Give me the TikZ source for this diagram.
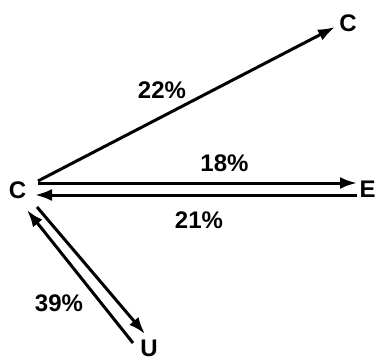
\documentclass[tikz,border=0pt]{standalone}
\usepackage{fontspec}
\setmainfont{Liberation Sans}
\usetikzlibrary{arrows.meta}
\tikzset{
    >=Latex,
    font=\fontsize{24}{28}\selectfont,
    flow_state/.style={
        inner sep=0pt,
        font=\fontsize{24}{28}\selectfont\bfseries
    },
    flow_pct/.style={
        inner sep=0pt,
        font=\fontsize{24}{28}\selectfont\bfseries
    },
    flow_arrow/.style={
        -{Latex[length=17pt, width=12pt]},
        line width=3pt
    }
}

\begin{document}
\begin{tikzpicture}[x=1pt, y=-1pt]
\useasboundingbox (0,0) rectangle (377,361);

% --- States ---
\node[flow_state] (Home) at (17.5,190.5) {C};
\node[flow_state] (Top) at (348,23.5) {C};
\node[flow_state] (East) at (367.5,189) {E};
\node[flow_state] (Under) at (149,348) {U};

% --- Shares ---
\node[flow_pct] (pTop) at (162,90) {22\%};
\node[flow_pct] (pOut) at (224.5,163) {18\%};
\node[flow_pct] (pBack) at (199,220) {21\%};
\node[flow_pct] (pUnder) at (59,303) {39\%};

% --- Edges ---
\draw[flow_arrow] ([shift={(20.5,-9.5)}]Home.center) -- ([shift={(-13,3.5)}]Top.center);
\draw[flow_arrow] ([shift={(20.5,-7.5)}]Home.center) -- ([shift={(-10.5,-6)}]East.center);
\draw[flow_arrow] ([shift={(-10.5,6)}]East.center) -- ([shift={(17.5,4.5)}]Home.center);
\draw[flow_arrow] ([shift={(19.5,16.5)}]Home.center) -- ([shift={(-4,-14)}]Under.center);
\draw[flow_arrow] ([shift={(-16,-5)}]Under.center) -- ([shift={(9.5,19.5)}]Home.center);

\end{tikzpicture}
\end{document}
